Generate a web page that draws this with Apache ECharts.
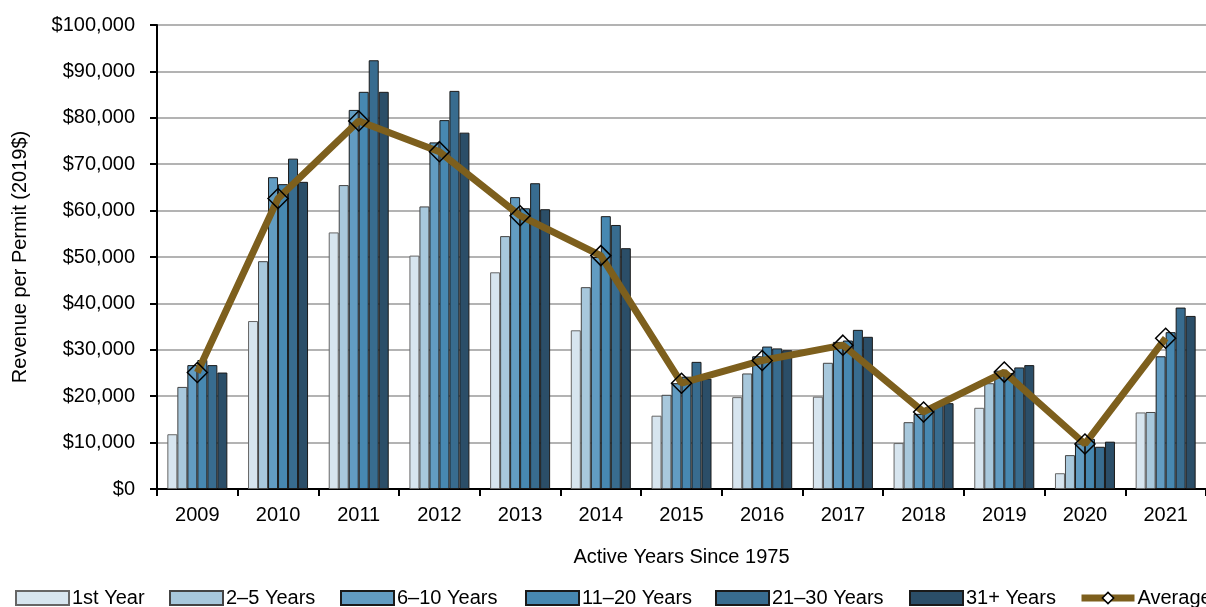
<!DOCTYPE html>
<html>
<head>
<meta charset="utf-8">
<script src="https://cdn.jsdelivr.net/npm/echarts@6/dist/echarts.min.js"></script>
<style>
html,body{margin:0;padding:0;background:#fff;}
#chart{width:1206px;height:607px;}
</style>
</head>
<body>
<div id="chart"></div>
<script>
const categories = ['2009','2010','2011','2012','2013','2014','2015','2016','2017','2018','2019','2020','2021'];
const firstYear = [11800, 36200, 55300, 50300, 46700, 34200, 15800, 19800, 19900, 9900, 17500, 3400, 16500];
const years2to5 = [22000, 49100, 65500, 60900, 54500, 43500, 20300, 24900, 27200, 14400, 22800, 7300, 16600];
const years6to10 = [26700, 67200, 81700, 74700, 62900, 50000, 22800, 28600, 31700, 16200, 25500, 9800, 28600];
const years11to20 = [27800, 65700, 85600, 79500, 60500, 58800, 24200, 30700, 32000, 16800, 25000, 10800, 33800];
const years21to30 = [26700, 71200, 92400, 85800, 65900, 56900, 27400, 30300, 34300, 18500, 26200, 9100, 39100];
const years31plus = [25100, 66200, 85600, 76800, 60300, 51900, 23800, 29900, 32800, 18500, 26700, 10200, 37300];
const average = [25100, 62600, 79300, 72700, 58900, 50300, 22800, 27700, 31000, 16600, 25200, 9700, 32500];

const seriesNames = ['1st Year','2–5 Years','6–10 Years','11–20 Years','21–30 Years','31+ Years'];
const seriesData = [firstYear, years2to5, years6to10, years11to20, years21to30, years31plus];
const colors = ['#d7e5ef','#a8c8dc','#629cc2','#4788b1','#386c8f','#2b4e68'];
const borders = ['#666','#444','#1a1a1a','#1a1a1a','#1a1a1a','#1a1a1a'];
const lineColor = '#7d5f1d';
const FONT = "'Liberation Sans', Arial, sans-serif";

const chart = echarts.init(document.getElementById('chart'));

const barSeries = seriesNames.map((n, i) => ({
  name: n,
  type: 'bar',
  data: seriesData[i],
  barWidth: 10,
  barGap: '0%',
  itemStyle: { color: colors[i], borderColor: borders[i], borderWidth: 1 },
  z: 2
}));

const legendLefts = [15, 169, 340, 525, 715, 909, 1078];
const legendNames = seriesNames.concat(['Average']);
const legends = legendNames.map((n, i) => {
  const isAvg = n === 'Average';
  const l = {
    data: [isAvg ? { name: n } : { name: n, icon: 'rect' }],
    left: legendLefts[i],
    top: 588,
    itemWidth: 53,
    itemHeight: 14,
    itemGap: 0,
    padding: 0,
    textStyle: { fontSize: 20, fontFamily: FONT, color: '#000', padding: [0, 0, 0, -2] },
    selectedMode: false
  };
  if (isAvg) {
    l.itemStyle = { color: '#fff', borderColor: '#000', borderWidth: 1.5 };
    l.lineStyle = { color: lineColor, width: 7 };
  }
  return l;
});

const option = {
  animation: false,
  backgroundColor: '#fff',
  textStyle: { fontFamily: FONT },
  grid: { left: 157, top: 25, width: 1058, height: 464, containLabel: false },
  legend: legends,
  xAxis: {
    type: 'category',
    data: categories,
    name: 'Active Years Since 1975',
    nameLocation: 'middle',
    nameGap: 58,
    nameTextStyle: { fontSize: 20, color: '#000', fontFamily: FONT },
    axisLine: { lineStyle: { color: '#000', width: 2 } },
    axisTick: { show: true, length: 7, lineStyle: { color: '#000', width: 2 } },
    axisLabel: { fontSize: 20, color: '#000', margin: 16, fontFamily: FONT },
    splitLine: { show: false }
  },
  yAxis: {
    type: 'value',
    min: 0,
    max: 100000,
    interval: 10000,
    name: 'Revenue per Permit (2019$)',
    nameLocation: 'middle',
    nameGap: 127,
    nameRotate: 90,
    nameTextStyle: { fontSize: 20, color: '#000', fontFamily: FONT },
    axisLine: { show: true, lineStyle: { color: '#000', width: 2 } },
    axisTick: { show: true, length: 7, lineStyle: { color: '#000', width: 2 } },
    axisLabel: {
      fontSize: 20, color: '#000', margin: 22, fontFamily: FONT,
      formatter: v => '$' + v.toLocaleString('en-US')
    },
    splitLine: { show: true, lineStyle: { color: '#b3b3b3', width: 2 } }
  },
  series: barSeries.concat([{
    name: 'Average',
    type: 'line',
    data: average,
    z: 5,
    symbol: 'diamond',
    symbolSize: 20,
    lineStyle: { color: lineColor, width: 7 },
    itemStyle: { color: 'rgba(255,255,255,0)', borderColor: '#000', borderWidth: 1.5 }
  }])
};
chart.setOption(option);
</script>
</body>
</html>
